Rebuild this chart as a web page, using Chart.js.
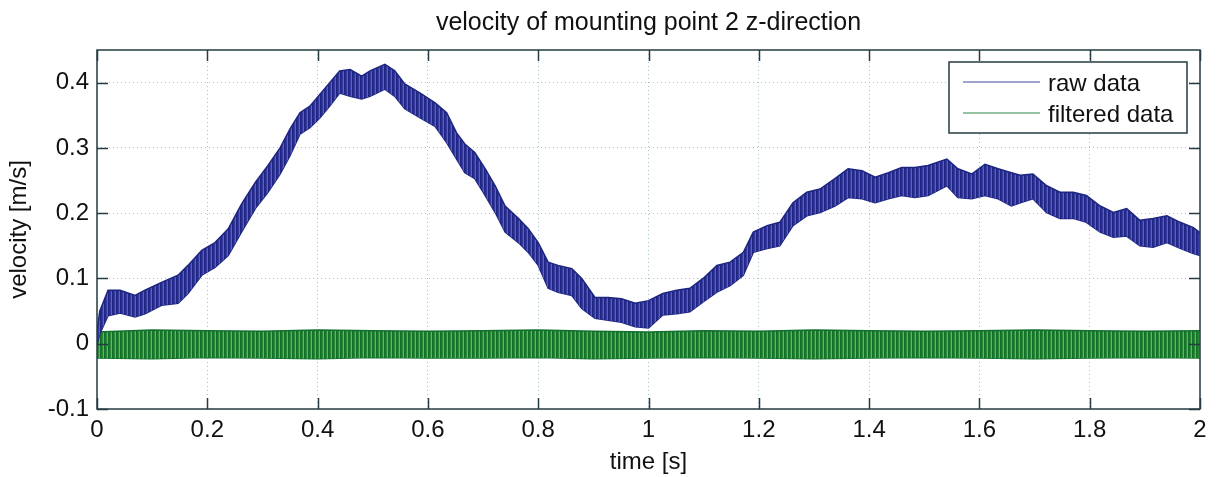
<!DOCTYPE html>
<html>
<head>
<meta charset="utf-8">
<script src="https://cdn.jsdelivr.net/npm/chart.js@4.4.1/dist/chart.umd.min.js"></script>
<style>
  html, body { margin: 0; padding: 0; background: #fff; }
</style>
</head>
<body>
<canvas id="velocity-chart" width="1220" height="477"></canvas>
<script>
// raw data: upper / lower edge of the oscillating band [m/s]
const rawTime = [
    0, 0.005, 0.02, 0.042, 0.069, 0.087, 0.117, 0.147, 0.165, 0.19,
    0.214, 0.238, 0.262, 0.287, 0.31, 0.332, 0.35, 0.368, 0.386, 0.404,
    0.422, 0.44, 0.459, 0.48, 0.495, 0.522, 0.54, 0.558, 0.586, 0.613,
    0.634, 0.652, 0.667, 0.685, 0.704, 0.722, 0.74, 0.764, 0.782, 0.8,
    0.818, 0.836, 0.861, 0.879, 0.903, 0.927, 0.951, 0.976, 1.0, 1.026,
    1.051, 1.075, 1.099, 1.124, 1.148, 1.172, 1.19, 1.215, 1.238, 1.262,
    1.287, 1.311, 1.338, 1.362, 1.387, 1.411, 1.435, 1.459, 1.483, 1.507,
    1.541, 1.561, 1.586, 1.61, 1.634, 1.658, 1.674, 1.697, 1.722, 1.746,
    1.77, 1.794, 1.819, 1.843, 1.867, 1.891, 1.915, 1.94, 1.964, 1.988, 2.0,
];
const rawUpper = [
    0.02, 0.05, 0.082, 0.082, 0.074, 0.082, 0.094, 0.105, 0.12, 0.143,
    0.155, 0.176, 0.214, 0.247, 0.273, 0.3, 0.329, 0.354, 0.364, 0.382,
    0.4, 0.418, 0.42, 0.41, 0.418, 0.428, 0.418, 0.398, 0.384, 0.369,
    0.354, 0.323, 0.306, 0.293, 0.268, 0.242, 0.211, 0.192, 0.176, 0.155,
    0.125, 0.12, 0.115, 0.1, 0.071, 0.071, 0.069, 0.062, 0.066, 0.077,
    0.082, 0.085, 0.1, 0.12, 0.125, 0.14, 0.171, 0.181, 0.186, 0.216,
    0.232, 0.237, 0.253, 0.268, 0.265, 0.255, 0.262, 0.27, 0.27, 0.273,
    0.283, 0.268, 0.26, 0.275, 0.268, 0.262, 0.258, 0.26, 0.242, 0.232,
    0.232, 0.227, 0.211, 0.201, 0.207, 0.189, 0.192, 0.196, 0.186, 0.178, 0.17,
];
const rawLower = [
    0.0, 0.015, 0.043, 0.047, 0.041, 0.046, 0.059, 0.062, 0.077, 0.105,
    0.117, 0.135, 0.171, 0.207, 0.232, 0.26, 0.288, 0.321, 0.331, 0.346,
    0.364, 0.384, 0.379, 0.375, 0.379, 0.39, 0.379, 0.36, 0.346, 0.333,
    0.308, 0.283, 0.262, 0.253, 0.227, 0.201, 0.171, 0.155, 0.14, 0.12,
    0.085, 0.079, 0.074, 0.054, 0.039, 0.036, 0.033, 0.026, 0.024, 0.044,
    0.046, 0.049, 0.064, 0.079, 0.089, 0.105, 0.14, 0.146, 0.15, 0.181,
    0.196, 0.201, 0.211, 0.224, 0.222, 0.216, 0.222, 0.227, 0.224, 0.227,
    0.242, 0.224, 0.222, 0.227, 0.222, 0.211, 0.216, 0.222, 0.201, 0.192,
    0.192, 0.186, 0.171, 0.163, 0.165, 0.15, 0.148, 0.155, 0.146, 0.138, 0.135,
];

// filtered data band
const filtTime = [0, 0.1, 0.2, 0.3, 0.4, 0.5, 0.6, 0.7, 0.8, 0.9, 1.0, 1.1, 1.2, 1.3, 1.4, 1.5, 1.6, 1.7, 1.8, 1.9, 2.0];
const filtUpper = [0.018, 0.021, 0.02, 0.019, 0.021, 0.02, 0.019, 0.02, 0.021, 0.019, 0.018, 0.02, 0.019, 0.021, 0.02, 0.019, 0.02, 0.021, 0.02, 0.019, 0.02];
const filtLower = [-0.022, -0.023, -0.021, -0.022, -0.023, -0.021, -0.022, -0.022, -0.021, -0.023, -0.022, -0.021, -0.022, -0.023, -0.022, -0.021, -0.022, -0.023, -0.022, -0.021, -0.022];

const xTicks = [0, 0.2, 0.4, 0.6, 0.8, 1, 1.2, 1.4, 1.6, 1.8, 2];
const yTicks = [-0.1, 0, 0.1, 0.2, 0.3, 0.4];

const FONT = "'Liberation Sans', Arial, sans-serif";

function stripes(colors) {
    const c = document.createElement("canvas");
    c.width = colors.length;
    c.height = 1;
    const g = c.getContext("2d");
    colors.forEach((col, i) => {
        g.fillStyle = col;
        g.fillRect(i, 0, 1, 1);
    });
    return g.createPattern(c, "repeat");
}

const rawFill = stripes(["#1c2780", "#222d8c", "#3a38a2", "#7a52b0"]);
const filtFill = stripes(["#10702c", "#157a30", "#2d8a34", "#78b044"]);

const points = (xs, ys) => xs.map((x, i) => ({ x, y: ys[i] }));
const fmt = (v) => String(Number(v.toFixed(2)));

const framePlugin = {
    id: "frame",
    afterDraw(chart) {
        const { ctx, chartArea: a, scales } = chart;
        ctx.save();
        // title
        ctx.fillStyle = "#111";
        ctx.font = "25px " + FONT;
        ctx.textAlign = "center";
        ctx.textBaseline = "alphabetic";
        ctx.fillText("velocity of mounting point 2 z-direction", (a.left + a.right) / 2, 30);

        // box + inward ticks
        ctx.strokeStyle = "#263c42";
        ctx.lineWidth = 1.5;
        ctx.strokeRect(a.left, a.top, a.right - a.left, a.bottom - a.top);
        const len = 11;
        ctx.beginPath();
        xTicks.forEach((v) => {
            const px = Math.round(scales.x.getPixelForValue(v)) + 0.5;
            ctx.moveTo(px, a.bottom); ctx.lineTo(px, a.bottom - len);
            ctx.moveTo(px, a.top); ctx.lineTo(px, a.top + len);
        });
        yTicks.forEach((v) => {
            const py = Math.round(scales.y.getPixelForValue(v)) + 0.5;
            ctx.moveTo(a.left, py); ctx.lineTo(a.left + len, py);
            ctx.moveTo(a.right, py); ctx.lineTo(a.right - len, py);
        });
        ctx.stroke();

        // legend
        const entries = chart.data.datasets.filter((d) => !d.label.startsWith("_"));
        const bx = a.right - 251, by = a.top + 12, bw = 238, bh = 71;
        ctx.fillStyle = "#fff";
        ctx.fillRect(bx, by, bw, bh);
        ctx.strokeStyle = "#263c42";
        ctx.lineWidth = 1.5;
        ctx.strokeRect(bx, by, bw, bh);
        ctx.font = "24px " + FONT;
        ctx.textAlign = "left";
        entries.forEach((d, i) => {
            const ry = by + 20 + i * 31;
            ctx.strokeStyle = d.legendColor;
            ctx.lineWidth = 1.2;
            ctx.beginPath();
            ctx.moveTo(bx + 14, ry);
            ctx.lineTo(bx + 91, ry);
            ctx.stroke();
            ctx.fillStyle = "#111";
            ctx.fillText(d.label, bx + 99, ry + 9);
        });
        ctx.restore();
    },
};

const ctx = document.getElementById("velocity-chart");

new Chart(ctx, {
    type: "line",
    data: {
        datasets: [
            {
                label: "raw data",
                legendColor: "#3b4aa0",
                data: points(rawTime, rawUpper),
                borderColor: "#1c2680",
                borderWidth: 1.5,
                backgroundColor: rawFill,
                fill: "+1",
            },
            {
                label: "_raw lower",
                data: points(rawTime, rawLower),
                borderColor: "#1c2680",
                borderWidth: 1.5,
                fill: false,
            },
            {
                label: "filtered data",
                legendColor: "#2a8a4a",
                data: points(filtTime, filtUpper),
                borderColor: "#12702e",
                borderWidth: 1.5,
                backgroundColor: filtFill,
                fill: "+1",
            },
            {
                label: "_filtered lower",
                data: points(filtTime, filtLower),
                borderColor: "#12702e",
                borderWidth: 1.5,
                fill: false,
            },
        ],
    },
    options: {
        responsive: false,
        animation: false,
        events: [],
        elements: { point: { radius: 0 }, line: { tension: 0 } },
        layout: { padding: { top: 50, right: 20, bottom: 0, left: 0 } },
        plugins: {
            legend: { display: false },
            title: { display: false },
            tooltip: { enabled: false },
        },
        scales: {
            x: {
                type: "linear",
                min: 0,
                max: 2,
                afterFit: (s) => { s.height = 68; },
                afterBuildTicks: (s) => { s.ticks = xTicks.map((v) => ({ value: v })); },
                ticks: { callback: fmt, color: "#111", font: { size: 24, family: FONT }, padding: 7, maxRotation: 0 },
                grid: { color: "#9cc3da", lineWidth: 1, drawTicks: false },
                border: { display: false, dash: [1, 3] },
                title: { display: true, text: "time [s]", color: "#111", font: { size: 24, family: FONT }, padding: 0 },
            },
            y: {
                type: "linear",
                min: -0.1,
                max: 0.45,
                afterFit: (s) => { s.width = 97; },
                afterBuildTicks: (s) => { s.ticks = yTicks.map((v) => ({ value: v })); },
                ticks: { callback: fmt, color: "#111", font: { size: 24, family: FONT }, padding: 8 },
                grid: { color: "#9cc3da", lineWidth: 1, drawTicks: false },
                border: { display: false, dash: [1, 3] },
                title: { display: true, text: "velocity [m/s]", color: "#111", font: { size: 24, family: FONT }, padding: { top: 5, bottom: 0 } },
            },
        },
    },
    plugins: [framePlugin],
});
</script>
</body>
</html>
